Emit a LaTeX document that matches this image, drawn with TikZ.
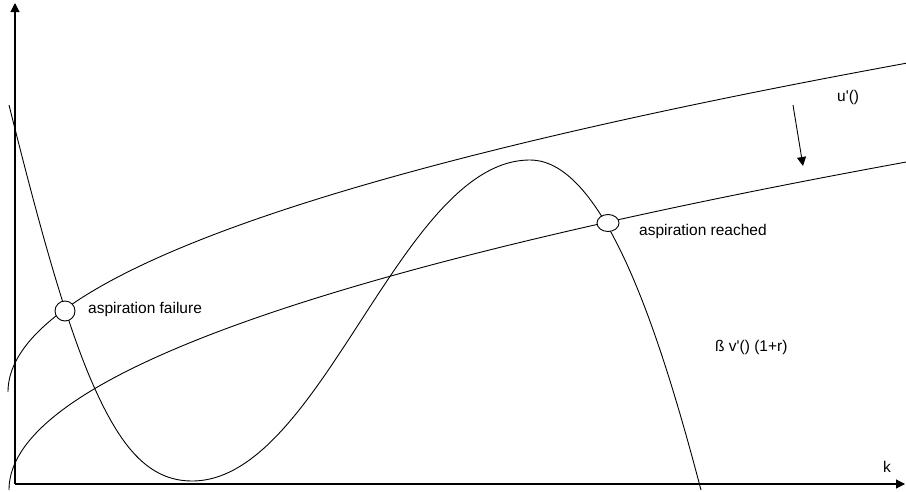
\documentclass[tikz,border=0pt]{standalone}
\usepackage{fontspec}
\setmainfont{Liberation Sans}
\usetikzlibrary{arrows.meta, shapes.geometric}

\begin{document}
\begin{tikzpicture}[x=1pt, y=-1pt, >={Triangle[length=9pt, width=9pt]},
  curve/.style={line width=0.9pt},
  txt/.style={font=\fontsize{15.5}{18}\selectfont, anchor=base west, inner sep=0pt},
  marker/.style={draw, fill=white, line width=0.9pt, inner sep=0pt}]
  \useasboundingbox (0,0) rectangle (906,491);
  % axes
  \coordinate (origin) at (15,484);
  \coordinate (xtip) at (905,484);
  \coordinate (ytip) at (15,3);
  \draw[->, line width=1.1pt] (origin) -- (xtip);
  \draw[->, line width=1.1pt] (origin) -- (ytip);
  \node[txt] (klabel) at (883,472) {k};
  % u'() and the shifted curve
  \draw[curve, domain=0:29.97, samples=120] plot ({8+\x*\x}, {392-10.97*\x});
  \draw[curve, domain=0:29.95, samples=120] plot ({9+\x*\x}, {490-10.95*\x});
  % beta v'() (1+r)
  \draw[curve] (9,105) .. controls (38,221) and (66,325) .. (95,389)
    .. controls (120,444) and (147,481) .. (192,481)
    .. controls (322,481) and (400,160) .. (530,160)
    .. controls (605,160) and (661,338) .. (701,490);
  % crossings
  \node[marker, circle, minimum size=20pt] (failure) at (65,311) {};
  \node[marker, ellipse, minimum width=22pt, minimum height=17pt] (reached) at (608,223) {};
  \node[txt] (failtext) at (88,313) {aspiration failure};
  \node[txt] (reachtext) at (639,235) {aspiration reached};
  \node[txt] (utext) at (837,101) {u\textquotesingle()};
  \node[txt] (vtext) at (715,351) {ß v\textquotesingle() (1+r)};
  % shift arrow
  \coordinate (shiftstart) at (793,105);
  \coordinate (shiftend) at (803,166);
  \draw[->, curve] (shiftstart) -- (shiftend);
\end{tikzpicture}
\end{document}
